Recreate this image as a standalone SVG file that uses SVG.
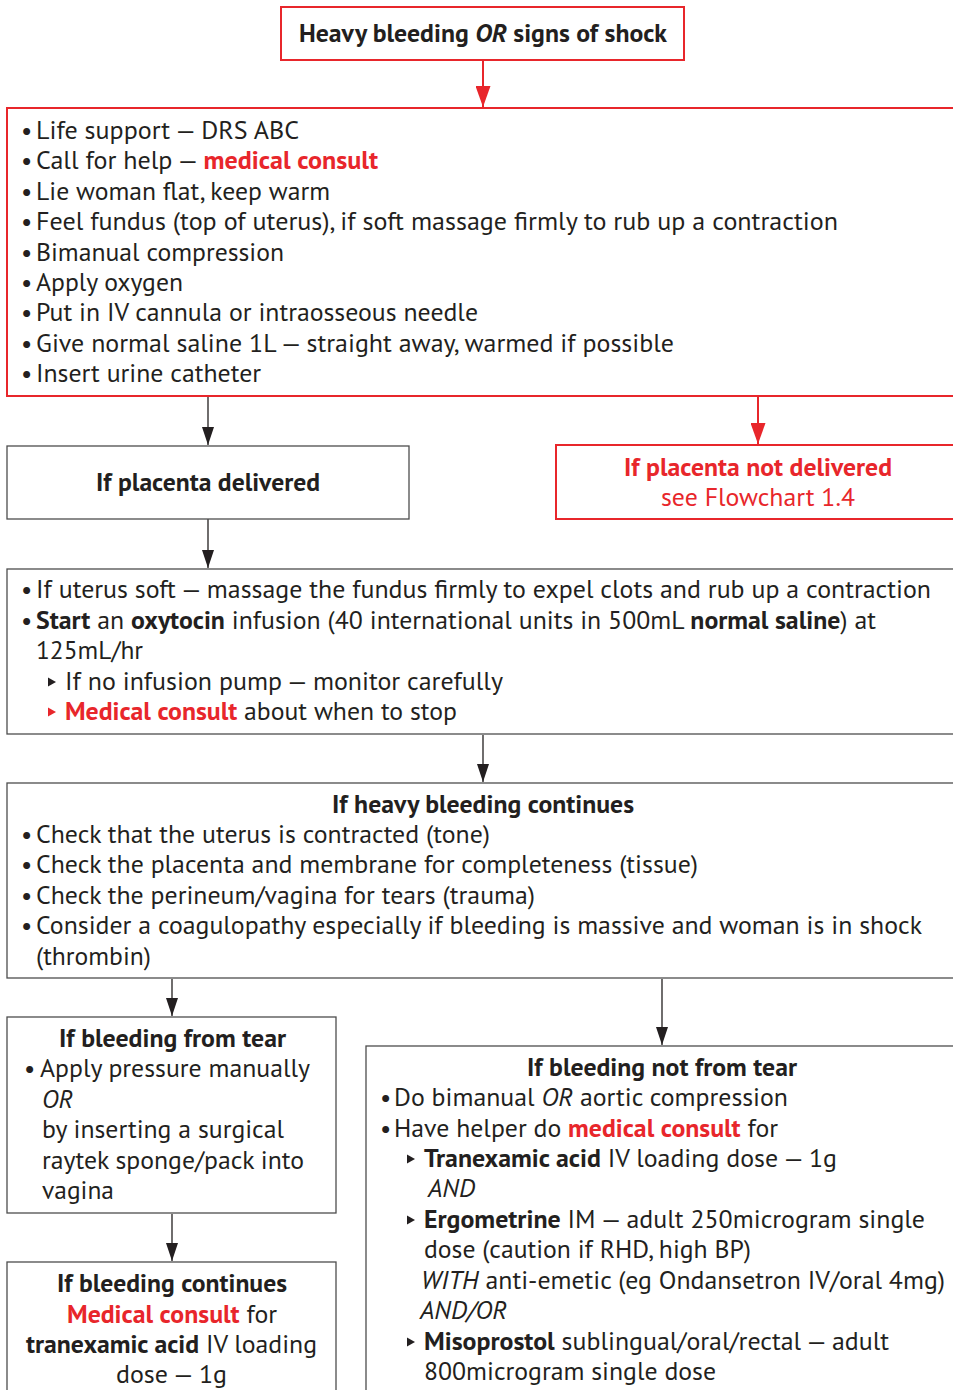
<svg xmlns="http://www.w3.org/2000/svg" width="953" height="1390" viewBox="0 0 953 1390">
<defs>
<style>
.t{font-family:"PT Sans","Noto Sans","Open Sans",sans-serif;font-size:25px;fill:#231f20}
.b{font-weight:700}
.i{font-style:italic}
.r{fill:#e8262b}
.bx{fill:#ffffff;stroke:#4d4d4d;stroke-width:1.3}
.rbx{fill:#ffffff;stroke:#e8262b;stroke-width:2}
.ln{stroke:#231f20;stroke-width:1.3;fill:none}
.rln{stroke:#e8262b;stroke-width:2;fill:none}
.tri{fill:#231f20}
.rtri{fill:#e8262b}
</style>
<marker id="ah" viewBox="0 0 18 12" refX="18" refY="6" markerWidth="18" markerHeight="12" markerUnits="userSpaceOnUse" orient="auto"><path d="M0,0 L18,6 L0,12 z" fill="#231f20"/></marker>
<marker id="rah" viewBox="0 0 21 15" refX="21" refY="7.5" markerWidth="21" markerHeight="15" markerUnits="userSpaceOnUse" orient="auto"><path d="M0,0 L21,7.5 L0,15 z" fill="#e8262b"/></marker>
</defs>
<rect width="953" height="1390" fill="#ffffff"/>

<g id="connectors">
<line class="rln" x1="483" y1="60" x2="483" y2="107" marker-end="url(#rah)"/>
<line class="ln" x1="208" y1="397" x2="208" y2="445" marker-end="url(#ah)"/>
<line class="rln" x1="758" y1="397" x2="758" y2="444" marker-end="url(#rah)"/>
<line class="ln" x1="208" y1="519" x2="208" y2="568" marker-end="url(#ah)"/>
<line class="ln" x1="483" y1="735" x2="483" y2="782" marker-end="url(#ah)"/>
<line class="ln" x1="172" y1="979" x2="172" y2="1016" marker-end="url(#ah)"/>
<line class="ln" x1="662" y1="979" x2="662" y2="1045" marker-end="url(#ah)"/>
<line class="ln" x1="172" y1="1214" x2="172" y2="1261" marker-end="url(#ah)"/>
</g>

<g id="n-start">
<rect class="rbx" x="281" y="7" width="403" height="53"/>
<text class="t b" x="299" y="42" textLength="368" lengthAdjust="spacingAndGlyphs">Heavy bleeding <tspan class="i">OR</tspan> signs of shock</text>
</g>

<g id="n-initial">
<rect class="rbx" x="7" y="108" width="960" height="288"/>
<text class="t" x="21" y="139">•</text>
<text class="t" x="36" y="139" textLength="263" lengthAdjust="spacingAndGlyphs">Life support — DRS ABC</text>
<text class="t" x="21" y="169.4">•</text>
<text class="t" x="36" y="169.4" textLength="342" lengthAdjust="spacingAndGlyphs">Call for help — <tspan class="b r">medical consult</tspan></text>
<text class="t" x="21" y="199.8">•</text>
<text class="t" x="36" y="199.8" textLength="294" lengthAdjust="spacingAndGlyphs">Lie woman flat, keep warm</text>
<text class="t" x="21" y="230.2">•</text>
<text class="t" x="36" y="230.2" textLength="802" lengthAdjust="spacingAndGlyphs">Feel fundus (top of uterus),  if soft massage firmly to rub up a contraction</text>
<text class="t" x="21" y="260.6">•</text>
<text class="t" x="36" y="260.6" textLength="248" lengthAdjust="spacingAndGlyphs">Bimanual compression</text>
<text class="t" x="21" y="291">•</text>
<text class="t" x="36" y="291" textLength="147" lengthAdjust="spacingAndGlyphs">Apply oxygen</text>
<text class="t" x="21" y="321.4">•</text>
<text class="t" x="36" y="321.4" textLength="442" lengthAdjust="spacingAndGlyphs">Put in IV cannula or intraosseous needle</text>
<text class="t" x="21" y="351.8">•</text>
<text class="t" x="36" y="351.8" textLength="638" lengthAdjust="spacingAndGlyphs">Give normal saline 1L — straight away, warmed if possible</text>
<text class="t" x="21" y="382.2">•</text>
<text class="t" x="36" y="382.2" textLength="225" lengthAdjust="spacingAndGlyphs">Insert urine catheter</text>
</g>

<g id="n-delivered">
<rect class="bx" x="7" y="446" width="402" height="73"/>
<text class="t b" x="96" y="491" textLength="224" lengthAdjust="spacingAndGlyphs">If placenta delivered</text>
</g>

<g id="n-not-delivered">
<rect class="rbx" x="556" y="445" width="420" height="74"/>
<text class="t b r" x="624" y="476" textLength="268" lengthAdjust="spacingAndGlyphs">If placenta not delivered</text>
<text class="t r" x="661" y="506" textLength="194" lengthAdjust="spacingAndGlyphs">see Flowchart 1.4</text>
</g>

<g id="n-oxytocin">
<rect class="bx" x="7" y="569" width="960" height="165"/>
<text class="t" x="21" y="598">•</text>
<text class="t" x="36" y="598" textLength="895" lengthAdjust="spacingAndGlyphs">If uterus soft — massage the fundus firmly to expel clots and rub up a contraction</text>
<text class="t" x="21" y="629">•</text>
<text class="t" x="36" y="629" textLength="840" lengthAdjust="spacingAndGlyphs"><tspan class="b">Start</tspan> an <tspan class="b">oxytocin</tspan> infusion (40 international units in 500mL <tspan class="b">normal saline</tspan>) at</text>
<text class="t" x="36" y="659" textLength="107" lengthAdjust="spacingAndGlyphs">125mL/hr</text>
<polygon class="tri" points="48,677.5 56,682 48,686.5"/>
<text class="t" x="65" y="690" textLength="438" lengthAdjust="spacingAndGlyphs">If no infusion pump — monitor carefully</text>
<polygon class="rtri" points="48,707.5 56,712 48,716.5"/>
<text class="t" x="65" y="720" textLength="392" lengthAdjust="spacingAndGlyphs"><tspan class="b r">Medical consult</tspan> about when to stop</text>
</g>

<g id="n-continues">
<rect class="bx" x="7" y="783" width="960" height="195"/>
<text class="t b" x="332" y="813" textLength="302" lengthAdjust="spacingAndGlyphs">If heavy bleeding continues</text>
<text class="t" x="21" y="843">•</text>
<text class="t" x="36" y="843" textLength="454" lengthAdjust="spacingAndGlyphs">Check that the uterus is contracted (tone)</text>
<text class="t" x="21" y="873">•</text>
<text class="t" x="36" y="873" textLength="662" lengthAdjust="spacingAndGlyphs">Check the placenta and membrane for completeness (tissue)</text>
<text class="t" x="21" y="904">•</text>
<text class="t" x="36" y="904" textLength="499" lengthAdjust="spacingAndGlyphs">Check the perineum/vagina for tears (trauma)</text>
<text class="t" x="21" y="934">•</text>
<text class="t" x="36" y="934" textLength="886" lengthAdjust="spacingAndGlyphs">Consider a coagulopathy especially if bleeding is massive and woman is in shock</text>
<text class="t" x="36" y="965" textLength="115" lengthAdjust="spacingAndGlyphs">(thrombin)</text>
</g>

<g id="n-tear">
<rect class="bx" x="7" y="1017" width="329" height="196"/>
<text class="t b" x="59" y="1047" textLength="227" lengthAdjust="spacingAndGlyphs">If bleeding from tear</text>
<text class="t" x="24" y="1077">•</text>
<text class="t" x="40" y="1077" textLength="270" lengthAdjust="spacingAndGlyphs">Apply pressure manually</text>
<text class="t i" x="42" y="1108" textLength="31" lengthAdjust="spacingAndGlyphs">OR</text>
<text class="t" x="42" y="1138" textLength="242" lengthAdjust="spacingAndGlyphs">by inserting a surgical</text>
<text class="t" x="42" y="1169" textLength="262" lengthAdjust="spacingAndGlyphs">raytek sponge/pack into</text>
<text class="t" x="42" y="1199" textLength="72" lengthAdjust="spacingAndGlyphs">vagina</text>
</g>

<g id="n-tear-continues">
<rect class="bx" x="7" y="1262" width="329" height="140"/>
<text class="t b" x="57" y="1292" textLength="230" lengthAdjust="spacingAndGlyphs">If bleeding continues</text>
<text class="t" x="67" y="1323" textLength="210" lengthAdjust="spacingAndGlyphs"><tspan class="b r">Medical consult</tspan> for</text>
<text class="t" x="26" y="1353" textLength="291" lengthAdjust="spacingAndGlyphs"><tspan class="b">tranexamic acid</tspan> IV loading</text>
<text class="t" x="116" y="1383" textLength="111" lengthAdjust="spacingAndGlyphs">dose — 1g</text>
</g>

<g id="n-not-tear">
<rect class="bx" x="366" y="1046" width="600" height="356"/>
<text class="t b" x="527" y="1076" textLength="270" lengthAdjust="spacingAndGlyphs">If bleeding not from tear</text>
<text class="t" x="380" y="1106">•</text>
<text class="t" x="394" y="1106" textLength="394" lengthAdjust="spacingAndGlyphs">Do bimanual <tspan class="i">OR</tspan> aortic compression</text>
<text class="t" x="380" y="1137">•</text>
<text class="t" x="394" y="1137" textLength="384" lengthAdjust="spacingAndGlyphs">Have helper do <tspan class="b r">medical consult</tspan> for</text>
<polygon class="tri" points="407,1154.5 415,1159 407,1163.5"/>
<text class="t" x="424" y="1167" textLength="413" lengthAdjust="spacingAndGlyphs"><tspan class="b">Tranexamic acid</tspan> IV loading dose — 1g</text>
<text class="t i" x="428" y="1197" textLength="47" lengthAdjust="spacingAndGlyphs">AND</text>
<polygon class="tri" points="407,1215.5 415,1220 407,1224.5"/>
<text class="t" x="424" y="1228" textLength="501" lengthAdjust="spacingAndGlyphs"><tspan class="b">Ergometrine</tspan> IM — adult 250microgram single</text>
<text class="t" x="424" y="1258" textLength="327" lengthAdjust="spacingAndGlyphs">dose (caution if RHD, high BP)</text>
<text class="t" x="421" y="1289" textLength="524" lengthAdjust="spacingAndGlyphs"><tspan class="i">WITH</tspan> anti-emetic (eg Ondansetron IV/oral 4mg)</text>
<text class="t i" x="420" y="1319" textLength="87" lengthAdjust="spacingAndGlyphs">AND/OR</text>
<polygon class="tri" points="407,1337.5 415,1342 407,1346.5"/>
<text class="t" x="424" y="1350" textLength="465" lengthAdjust="spacingAndGlyphs"><tspan class="b">Misoprostol</tspan> sublingual/oral/rectal — adult</text>
<text class="t" x="424" y="1380" textLength="292" lengthAdjust="spacingAndGlyphs">800microgram single dose</text>
</g>
</svg>
